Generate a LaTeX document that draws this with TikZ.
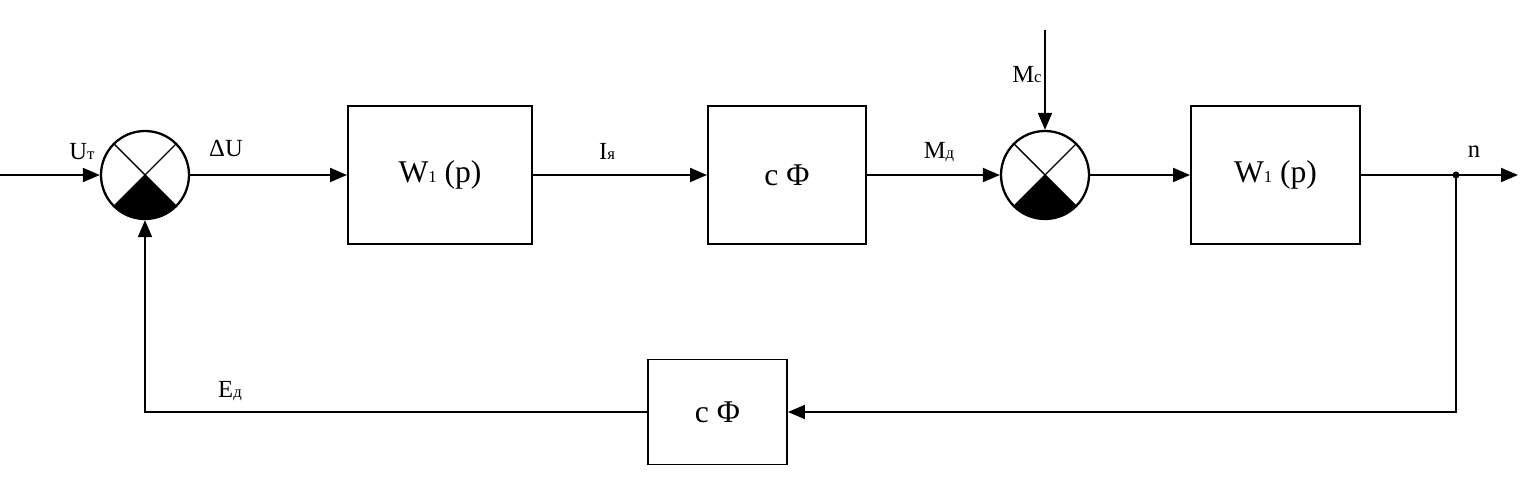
\documentclass[tikz,border=0pt]{standalone}
\usepackage{fontspec}
\setmainfont{Liberation Serif}
\usetikzlibrary{arrows.meta}
\newcommand{\idx}[1]{{\fontsize{9.5pt}{10pt}\selectfont #1}}

\begin{document}
\begin{tikzpicture}[x=0.2mm, y=0.2mm, line width=1.1pt,
    arr/.style={-{Triangle[length=3.4mm,width=2.8mm]}},
    blk/.style={draw, minimum height=27.6mm, font=\fontsize{18pt}{21pt}\selectfont},
    summ/.style={circle, draw, line width=1.3pt, minimum size=17.6mm, inner sep=0pt,
        path picture={
          \fill (path picture bounding box.center) -- (path picture bounding box.south west)
                -- (path picture bounding box.south east) -- cycle;
          \draw[line width=0.8pt] (path picture bounding box.north west) -- (path picture bounding box.south east)
                (path picture bounding box.north east) -- (path picture bounding box.south west);}},
    lbl/.style={font=\fontsize{14pt}{16pt}\selectfont}]
        \useasboundingbox (0,0) rectangle (1520,490);
        \coordinate (in) at (0,315);
        \node[summ] (s1) at (145,315) {};
        \node[blk, minimum width=36.8mm] (w1) at (440,315) {W\idx{1} (p)};
        \node[blk, minimum width=31.6mm] (cf) at (787,315) {c Φ};
        \node[summ] (s2) at (1045,315) {};
        \coordinate (mc) at (1045,460);
        \node[blk, minimum width=33.8mm] (w2) at (1275.5,315) {W\idx{1} (p)};
        \coordinate (br) at (1456,315);
        \coordinate (out) at (1518,315);
        \node[blk, minimum width=27.8mm, minimum height=21mm] (fb) at (717.5,78) {c Φ};
        \draw[arr] (in) -- (s1);
        \draw[arr] (s1) -- (w1);
        \draw[arr] (w1) -- (cf);
        \draw[arr] (cf) -- (s2);
        \draw[arr] (mc) -- (s2);
        \draw[arr] (s2) -- (w2);
        \draw[arr] (w2) -- (out);
        \fill (br) circle[radius=0.7mm];
        \draw[arr] (br) |- (fb);
        \draw[arr] (fb) -| (s1);
        \node[lbl] (ut) at (82,338) {U\idx{т}};
        \node[lbl] (du) at (226,341) {ΔU};
        \node[lbl] (ia) at (607,339) {I\idx{я}};
        \node[lbl] (md) at (939,338) {M\idx{д}};
        \node[lbl] (ms) at (1027,415) {M\idx{с}};
        \node[lbl] (n) at (1474,338) {n};
        \node[lbl] (ed) at (230,99) {E\idx{д}};
\end{tikzpicture}
\end{document}
